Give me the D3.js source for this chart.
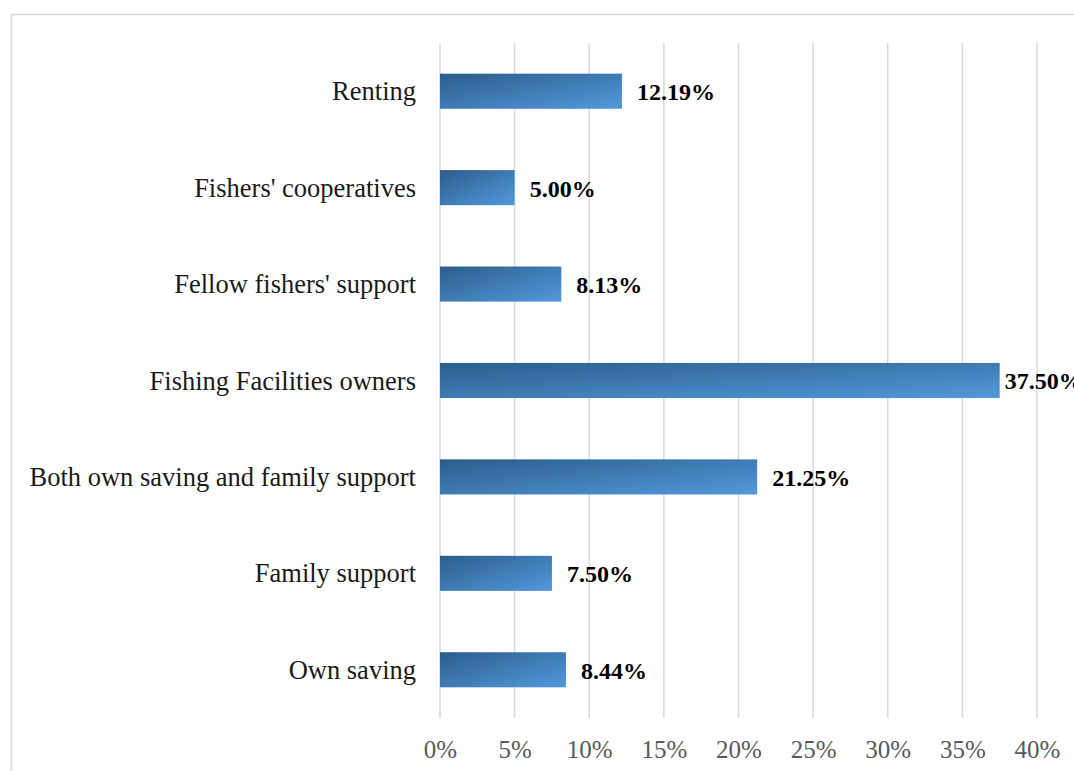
<!DOCTYPE html>
<html>
<head>
<meta charset="utf-8">
<script src="https://cdn.jsdelivr.net/npm/d3@7/dist/d3.min.js"></script>
<style>
  body { margin: 0; background: #fff; }
  text { font-family: "Liberation Serif", "Times New Roman", serif; }
</style>
</head>
<body>
<div id="chart"></div>
<script>
(function() {
  // categories top to bottom, as in the picture
  var categories = ["Renting", "Fishers' cooperatives", "Fellow fishers' support",
    "Fishing Facilities owners", "Both own saving and family support",
    "Family support", "Own saving"];
  var values = [12.19, 5.00, 8.13, 37.50, 21.25, 7.50, 8.44];
  var ticks = [0, 5, 10, 15, 20, 25, 30, 35, 40];

  var width = 1074;
  var height = 771;

  var svg = d3.select("#chart")
    .append("svg")
    .attr("width", width)
    .attr("height", height);

  // gradient for the bars, dark at top-left
  var grad = svg.append("defs").append("linearGradient")
    .attr("id", "barGrad")
    .attr("x1", "0%").attr("y1", "0%")
    .attr("x2", "100%").attr("y2", "100%");
  grad.append("stop").attr("offset", "0%").attr("stop-color", "#2c5d8c");
  grad.append("stop").attr("offset", "100%").attr("stop-color", "#5299dc");

  // chart border
  svg.append("rect")
    .attr("x", 11.5).attr("y", 14.5)
    .attr("width", 1100).attr("height", 800)
    .attr("fill", "none")
    .attr("stroke", "#d9d9d9")
    .attr("stroke-width", 1.5);

  var x = d3.scaleLinear()
    .domain([0, 40])
    .range([440, 1037]);

  var y = d3.scaleBand()
    .domain(categories)
    .range([43, 718])
    .paddingInner(0.636)
    .paddingOuter(0.318);

  // gridlines
  svg.append("g")
    .selectAll("line")
    .data(ticks)
    .enter()
    .append("line")
    .attr("x1", function(d) { return x(d); })
    .attr("x2", function(d) { return x(d); })
    .attr("y1", 43)
    .attr("y2", 718)
    .attr("stroke", "#d9d9d9")
    .attr("stroke-width", 1.5);

  // x axis labels
  var xAxis = d3.axisBottom(x)
    .tickValues(ticks)
    .tickSize(0)
    .tickPadding(0)
    .tickFormat(function(d) { return d + "%"; });
  var gx = svg.append("g")
    .attr("transform", "translate(0,740)")
    .call(xAxis);
  gx.select(".domain").remove();
  gx.selectAll("text")
    .attr("dy", "0.71em")
    .style("font-size", "25px")
    .style("font-family", "'Liberation Serif', serif")
    .attr("fill", "#595959");

  // category labels
  var yAxis = d3.axisLeft(y).tickSize(0).tickPadding(24);
  var gy = svg.append("g")
    .attr("transform", "translate(440,0)")
    .call(yAxis);
  gy.select(".domain").remove();
  gy.selectAll("text")
    .attr("dy", "0.34em")
    .style("font-size", "26.5px")
    .style("font-family", "'Liberation Serif', serif")
    .attr("fill", "#1a1a1a");

  // bars
  svg.append("g")
    .selectAll("rect")
    .data(values)
    .enter()
    .append("rect")
    .attr("x", x(0))
    .attr("y", function(d, i) { return y(categories[i]); })
    .attr("width", function(d) { return x(d) - x(0); })
    .attr("height", y.bandwidth())
    .attr("fill", "url(#barGrad)");

  // value labels - the ones running past the edge sit closer to the bar
  svg.append("g")
    .selectAll("text")
    .data(values)
    .enter()
    .append("text")
    .attr("x", function(d) { return x(d) > 950 ? x(d) + 5 : x(d) + 15; })
    .attr("y", function(d, i) { return y(categories[i]) + y.bandwidth() / 2; })
    .attr("dy", "0.37em")
    .style("font-size", "24px")
    .style("font-weight", "bold")
    .attr("fill", "#000")
    .text(function(d) { return d.toFixed(2) + "%"; });
})();
</script>
</body>
</html>
